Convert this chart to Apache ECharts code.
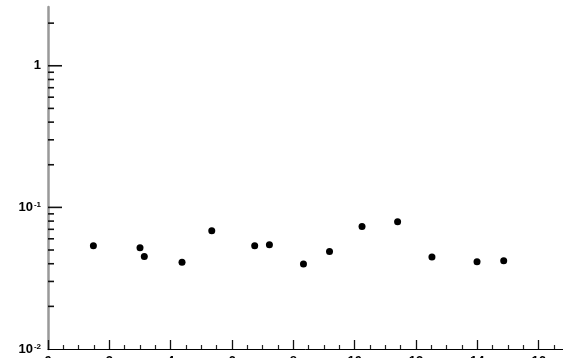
<!DOCTYPE html>
<html>
<head>
<meta charset="utf-8">
<script src="https://cdn.jsdelivr.net/npm/echarts@6/dist/echarts.min.js"></script>
<style>
  html, body { margin: 0; padding: 0; background: #fff; }
  #chart { width: 563px; height: 358px; }
</style>
</head>
<body>
<div id="chart"></div>
<script>
// Measured points
const xValues = [1.48, 3.00, 3.14, 4.37, 5.34, 6.74, 7.22, 8.33, 9.18, 10.24, 11.40, 12.52, 13.99, 14.86];
const yValues = [0.0536, 0.0519, 0.0450, 0.0409, 0.0683, 0.0536, 0.0545, 0.0398, 0.0489, 0.0733, 0.0791, 0.0446, 0.0413, 0.0420];

// Log-axis tick positions (drawn on the inside of the y axis)
const yMajorTicks = [0.1, 1];
const yMinorTicks = [0.02, 0.03, 0.04, 0.05, 0.06, 0.07, 0.08, 0.09,
                     0.2, 0.3, 0.4, 0.5, 0.6, 0.7, 0.8, 0.9, 2];

const xMin = 0, xMax = 18, xStep = 2;
const yMin = 0.01, yMax = 2.6;

const points = xValues.map((x, i) => [x, yValues[i]]);
const tickData = yMajorTicks.map(v => [xMin, v, 14])
  .concat(yMinorTicks.map(v => [xMin, v, 6]));

const FONT = 'Liberation Sans, Arial, sans-serif';

const chart = echarts.init(document.getElementById('chart'), null, { renderer: 'canvas' });
chart.setOption({
  animation: false,
  backgroundColor: '#ffffff',
  grid: {
    left: 48, top: 7, bottom: 9, right: -37,
    containLabel: false,
    outerBoundsMode: 'none'
  },
  xAxis: {
    type: 'value',
    min: xMin, max: xMax, interval: xStep,
    axisLine: { show: true, onZero: false, lineStyle: { color: '#000', width: 1 } },
    axisTick: { show: true, inside: true, length: 9, lineStyle: { color: '#111', width: 1.3 } },
    minorTick: { show: true, splitNumber: 4, length: 4, lineStyle: { color: '#222', width: 1.2 } },
    splitLine: { show: false },
    axisLabel: {
      margin: 6, color: '#000', fontFamily: FONT, fontWeight: 'bold', fontSize: 13
    }
  },
  yAxis: {
    type: 'log', logBase: 10,
    min: yMin, max: yMax,
    axisLine: { show: true, lineStyle: { color: '#999', width: 2.5 } },
    axisTick: { show: false },
    minorTick: { show: false },
    splitLine: { show: false },
    axisLabel: {
      margin: 7, color: '#000', fontFamily: FONT,
      formatter: function (v) {
        const e = Math.round(Math.log10(v) * 1000) / 1000;
        if (e === 0) return '{b|1}';
        if (e === -1 || e === -2) return '{b|10}{s|' + e + '}';
        return '';
      },
      rich: {
        b: { fontFamily: FONT, fontWeight: 'bold', fontSize: 13, color: '#000' },
        s: { fontFamily: FONT, fontWeight: 'bold', fontSize: 8, color: '#000', verticalAlign: 'top', padding: [0, 0, 0, 1] }
      }
    }
  },
  series: [
    {
      type: 'custom',
      name: 'yTicks',
      silent: true,
      data: tickData,
      encode: { x: 0, y: 1 },
      renderItem: function (params, api) {
        const p = api.coord([api.value(0), api.value(1)]);
        const len = api.value(2);
        return {
          type: 'line',
          shape: { x1: p[0], y1: p[1], x2: p[0] + len, y2: p[1] },
          style: { stroke: '#111', lineWidth: 1.6 }
        };
      },
      z: 1
    },
    {
      type: 'scatter',
      data: points,
      symbol: 'circle',
      symbolSize: 7,
      itemStyle: { color: '#000', opacity: 1 },
      z: 3
    }
  ]
});
</script>
</body>
</html>
